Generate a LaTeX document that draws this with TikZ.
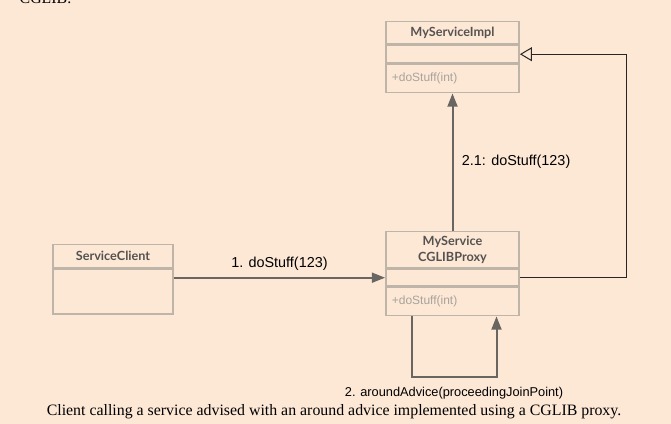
\documentclass[tikz,border=0pt]{standalone}
\usepackage{fontspec}
\setmainfont{Liberation Serif}
\setsansfont{Liberation Sans}
\newfontfamily\umlfont{Lato}
\usetikzlibrary{arrows.meta,positioning}
\definecolor{paper}{RGB}{253,232,214}
\definecolor{boxline}{RGB}{191,180,168}
\definecolor{titletext}{RGB}{85,82,80}
\definecolor{optext}{RGB}{168,162,156}
\definecolor{callline}{RGB}{105,101,97}
\definecolor{genline}{RGB}{40,38,36}

\begin{document}
\begin{tikzpicture}[x=0.75pt, y=-0.75pt,
    head/.style={draw=boxline, line width=1.1pt, minimum width=100pt, text width=91pt, inner xsep=4.5pt, inner ysep=1pt, align=center, font=\umlfont\bfseries\fontsize{9.5}{12}\selectfont, text=titletext},
    part/.style={draw=boxline, line width=1.1pt, minimum width=100pt, text width=91pt, inner xsep=4.5pt, inner ysep=1pt, align=left, font=\sffamily\fontsize{9}{11}\selectfont, text=optext},
    call/.style={draw=callline, line width=1.5pt, -{Triangle[length=10pt,width=7.5pt]}},
    extends/.style={draw=genline, line width=0.75pt, -{Triangle[open,length=9pt,width=10.5pt,fill=paper]}},
    msg/.style={font=\sffamily\fontsize{10.8}{13}\selectfont, text=black}]
    \fill[paper] (0,0) rectangle (671,424);
    \useasboundingbox (0,0) rectangle (671,424);
    \node[anchor=base west, font=\fontsize{11.9}{14}\selectfont] (prevline) at (15, 4) {CGLIB.};
    \node[head, anchor=north, minimum height=16.5pt] at (452.5, 21) (implhead) {MyServiceImpl};
    \node[part, below=0pt of implhead, minimum height=13.5pt] (implattr) {};
    \node[part, below=0pt of implattr, minimum height=21pt] (implops) {+doStuff(int)};
    \node[head, anchor=north, minimum height=27pt] at (452.5, 231) (proxyhead) {MyService\\CGLIBProxy};
    \node[part, below=0pt of proxyhead, minimum height=12.75pt] (proxyattr) {};
    \node[part, below=0pt of proxyattr, minimum height=21pt] (proxyops) {+doStuff(int)};
    \node[head, anchor=north, minimum width=90pt, text width=81pt, minimum height=17.25pt] at (113, 244) (clienthead) {ServiceClient};
    \node[part, below=0pt of clienthead, minimum width=90pt, text width=81pt, minimum height=33.75pt] (clientbody) {};
    \node[font=\fontsize{11.9}{14}\selectfont] at (334, 412) (caption) {Client calling a service advised with an around advice implemented using a CGLIB proxy.};
    \draw[call] (clientbody.east |- proxyattr.west) -- node[msg, above, yshift=1pt] {1. doStuff(123)} (proxyattr.west);
    \draw[call] (proxyhead.north) -- node[msg, right, xshift=3pt] {2.1: doStuff(123)} (implops.south);
    \draw[extends] (proxyattr.east) -- ++(107,0) |- (implattr.east);
    \draw[call] (proxyops.south) ++(-41,0) -- ++(0,61) -- node[msg, below, yshift=-3.5pt, font=\sffamily\fontsize{9.6}{12}\selectfont] {2. aroundAdvice(proceedingJoinPoint)} ++(85,0) -- ++(0,-61);
\end{tikzpicture}
\end{document}
